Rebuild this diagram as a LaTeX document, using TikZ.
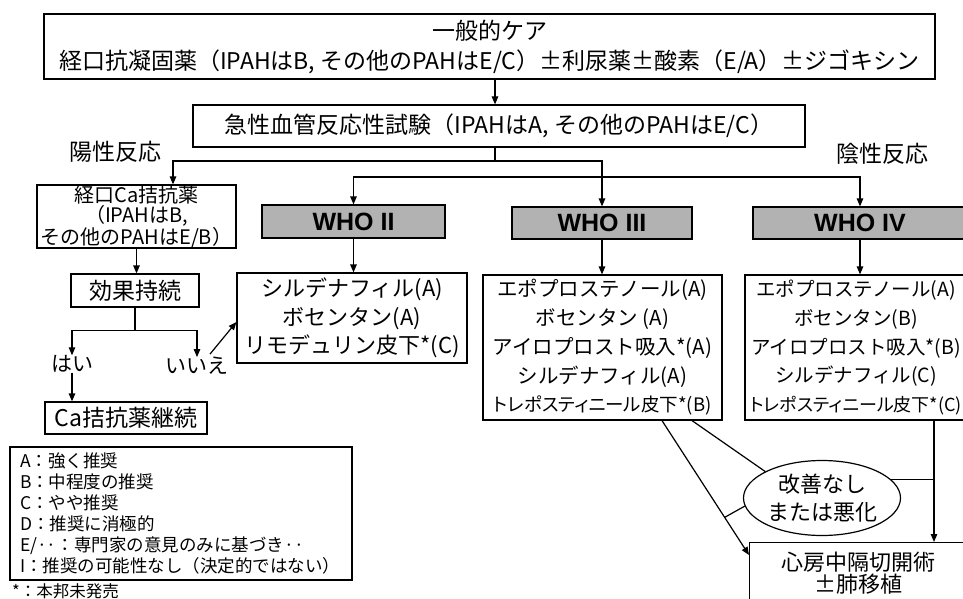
\documentclass[tikz,border=0pt]{standalone}
\usepackage{fontspec}
\setmainfont{Noto Sans CJK JP}
\newfontfamily\paltfont[RawFeature=+palt]{Noto Sans CJK JP}
\newfontfamily\whofont{Liberation Sans}
\usetikzlibrary{arrows.meta,shapes.geometric,calc}
\tikzset{
  ln/.style={line width=1.2pt},
  arr/.style={line width=1.2pt,-{Triangle[length=8pt,width=6.5pt]}},
  box/.style={draw,line width=1.2pt,rectangle,inner sep=0pt,align=center},
  whobox/.style={box,fill=black!30,font=\whofont\bfseries\fontsize{25}{25}\selectfont},
  fbig/.style={font=\fontsize{23}{30}\selectfont},
  fmed/.style={font=\fontsize{22}{28.5}\selectfont},
  fdrug/.style={font=\fontsize{20.5}{28.8}\selectfont},
  fdrugb/.style={font=\fontsize{19.5}{28.8}\selectfont},
  fsmall/.style={font=\fontsize{20}{20}\selectfont},
  flegend/.style={font=\fontsize{17.5}{21}\selectfont},
  lbl/.style={inner sep=0pt},
}
\begin{document}
\begin{tikzpicture}[x=1pt,y=-1pt]
\useasboundingbox (0,0) rectangle (963,599);
\clip (0,0) rectangle (963,599);
\fill[white] (0,0) rectangle (963,599);

\node[box,fbig,minimum width=891pt,minimum height=65pt] (top) at (489.5,46.5)
  {一般的ケア\\経口抗凝固薬（IPAHはB, その他のPAHはE/C）±利尿薬±酸素（E/A）±ジゴキシン};
\node[box,fbig,minimum width=612pt,minimum height=42pt] (test) at (499,126)
  {急性血管反応性試験（IPAHはA, その他のPAHはE/C）};
\node[lbl,fbig] (pos) at (115,152) {陽性反応};
\node[lbl,fbig] (neg) at (882,154) {陰性反応};

\node[box,fsmall,minimum width=199pt,minimum height=63pt] (ca) at (136.5,216.5)
  {経口Ca拮抗薬\\（IPAHはB,\\その他のPAHはE/B）};
\node[whobox,minimum width=183pt,minimum height=33pt] (who2) at (353.5,221.5) {WHO II};
\node[whobox,minimum width=180pt,minimum height=32pt] (who3) at (602,223) {WHO III};
\node[whobox,minimum width=214pt,minimum height=32pt] (who4) at (860,223) {WHO IV};

\node[box,fmed,minimum width=230pt,minimum height=90pt] (sil) at (352,318)
  {シルデナフィル(A)\\ボセンタン(A)\\リモデュリン皮下*(C)};
\node[box,fdrug,minimum width=239pt,minimum height=145pt] (ep3) at (602.5,347.5)
  {エポプロステノール(A)\\ボセンタン (A)\\アイロプロスト吸入*(A)\\シルデナフィル(A)\\{\paltfont\fontsize{18.5}{28.8}\selectfont トレポスティニール皮下*(B)}};
\node[box,fdrugb,minimum width=222pt,minimum height=145pt] (ep4) at (856,347.5)
  {エポプロステノール(A)\\ボセンタン(B)\\アイロプロスト吸入*(B)\\シルデナフィル(C)\\{\paltfont\fontsize{18}{28.8}\selectfont トレポスティニール皮下*(C)}};

\node[box,fbig,minimum width=128pt,minimum height=33pt] (kouka) at (135,290.5) {効果持続};
\node[lbl,font=\fontsize{21}{21}\selectfont] (hai) at (72,364) {はい};
\node[lbl,font=\fontsize{21}{21}\selectfont] (iie) at (197,366) {いいえ};
\node[box,fbig,minimum width=162pt,minimum height=32pt] (cakei) at (126,418) {Ca拮抗薬継続};

\node[box,flegend,align=left,text width=322pt,minimum width=342pt,minimum height=133pt] (legend) at (181,513.5)
  {A：強く推奨\\B：中程度の推奨\\C：やや推奨\\D：推奨に消極的\\E/··：専門家の意見のみに基づき··\\I：推奨の可能性なし（決定的ではない）};
\node[lbl,font=\fontsize{16.5}{16.5}\selectfont,anchor=west] (foot) at (12,591) {*：本邦未発売};

\node[draw,ellipse,line width=1.2pt,inner sep=0pt,align=center,fmed,minimum width=157pt,minimum height=75pt] (ell) at (822,498)
  {改善なし\\または悪化};
\node[box,anchor=north west,minimum width=218pt,minimum height=62pt,font=\fontsize{22}{22}\selectfont] (shinbo) at (749,542)
  {心房中隔切開術\\±肺移植};

% connectors
\coordinate (sp) at (495,0);
\draw[arr] (top.south -| sp) -- (test.north -| sp);
\coordinate (j1) at (495,161);
\draw[ln] (test.south -| j1) -- (j1);
\draw[arr] (j1) -| ([xshift=36.5pt]ca.north);
\draw[arr] (j1) -| (who3.north);
\coordinate (j2) at (600,177);
\draw[arr] (j2) -| (who2.north);
\draw[arr] (j2) -| (who4.north);

\draw[arr] (who2.south) -- (who2.south |- sil.north);
\draw[arr] (who3.south) -- (who3.south |- ep3.north);
\draw[arr] (who4.south) -- (who4.south |- ep4.north);

\draw[arr] (ca.south) -- (ca.south |- kouka.north);
\coordinate (k1) at ($(kouka.south)+(0,23)$);
\draw[ln] (kouka.south) -- (k1);
\draw[arr] (k1) -| (hai.north);
\draw[arr] (k1) -| (iie.north);
\draw[arr] (hai.south) -- (hai.south |- cakei.north);
\draw[arr] ([xshift=13pt,yshift=3pt]iie.north) -- ([yshift=-4pt]sil.west);

\coordinate (d1) at ([xshift=59.5pt]ep3.south);
\coordinate (d2) at ([yshift=-13pt]shinbo.north west);
\draw[arr] (d1) -- (d2);
\draw[ln] ([xshift=89.5pt]ep3.south) -- (ell.155);
\draw[ln] (ell.186) -- ($(d1)!0.72!(d2)$);
\coordinate (v4) at ([xshift=78pt]ep4.south);
\draw[arr] (v4) -- (v4 |- shinbo.north);
\draw[ln] (ell.15) -- (ell.15 -| v4);
\end{tikzpicture}
\end{document}
